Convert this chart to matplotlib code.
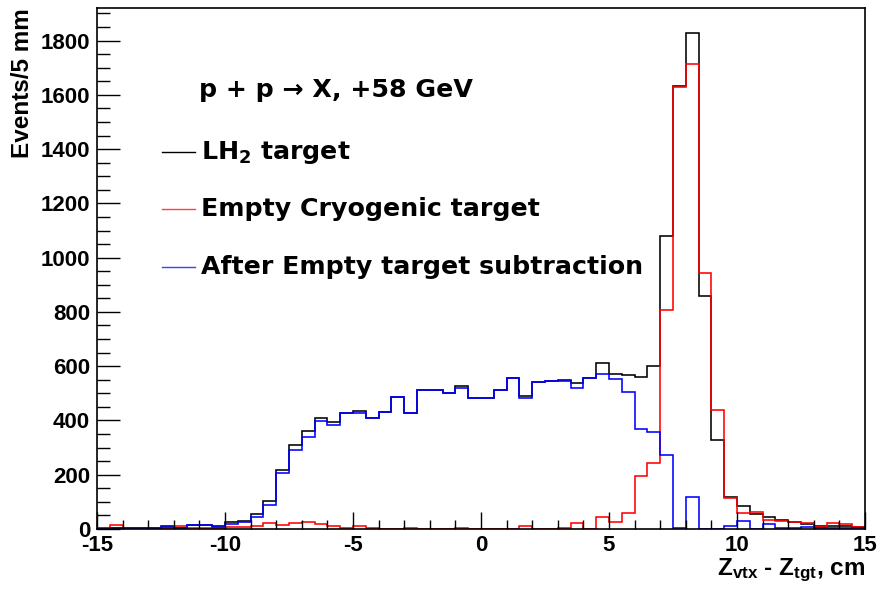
import numpy as np
import matplotlib
matplotlib.use("Agg")
import matplotlib.pyplot as plt
from matplotlib.lines import Line2D
from matplotlib.ticker import MultipleLocator

plt.rcParams['font.family'] = ['Liberation Sans', 'DejaVu Sans']
plt.rcParams['axes.unicode_minus'] = False
plt.rcParams['mathtext.fontset'] = 'custom'
plt.rcParams['mathtext.rm'] = 'Liberation Sans:bold'
plt.rcParams['mathtext.it'] = 'Liberation Sans:bold'
plt.rcParams['mathtext.bf'] = 'Liberation Sans:bold'

# Vertex z distribution, 5 mm bins from -15 to 15 cm
bin_edges = np.linspace(-15, 15, 61)

lh2_target = [
    2, 5, 4, 4, 4, 10, 5, 15, 15, 10,
    27, 30, 55, 105, 217, 308, 362, 410, 394, 426,
    434, 410, 433, 485, 429, 512, 514, 502, 526, 481,
    483, 512, 555, 491, 541, 545, 548, 539, 555, 612,
    573, 567, 561, 601, 1078, 1632, 1829, 860, 328, 119,
    85, 54, 43, 33, 25, 17, 12, 12, 12, 9,
]

empty_target = [
    2, 13, 3, 2, 2, 5, 10, 2, 2, 2,
    8, 8, 12, 22, 14, 22, 27, 20, 12, 2,
    12, 2, 0, 0, 3, 0, 0, 0, 3, 0,
    0, 0, 0, 12, 0, 0, 2, 22, 0, 43,
    26, 60, 195, 245, 806, 1629, 1714, 943, 439, 113,
    60, 62, 33, 31, 27, 21, 9, 23, 17, 9,
]

subtracted = [
    0, 2, 2, 2, 2, 8, 2, 14, 14, 8,
    18, 25, 45, 87, 205, 290, 340, 397, 385, 426,
    428, 410, 433, 485, 429, 512, 514, 502, 519, 481,
    483, 512, 555, 481, 541, 545, 545, 518, 555, 573,
    552, 505, 368, 358, 272, 3, 117, 0, 0, 12,
    31, 0, 17, 3, 3, 8, 2, 3, 3, 2,
]

title_text = "p + p \u2192 X, +58 GeV"
legend_labels = [r"LH$_{\mathbf{2}}$ target", "Empty Cryogenic target",
                 "After Empty target subtraction"]

W, H = 881, 589
fig = plt.figure(figsize=(W / 100, H / 100), dpi=100)
ax = fig.add_axes([97 / W, 1 - 529 / H, 768 / W, 521 / H])

lw = 1.15
ax.stairs(lh2_target, bin_edges, color='black', lw=lw, baseline=None)
ax.stairs(empty_target, bin_edges, color='#ff0000', lw=lw, baseline=None)
ax.stairs(subtracted, bin_edges, color='#0000ff', lw=lw, baseline=None)

ax.set_xlim(-15, 15)
ax.set_ylim(0, 1920)

ax.xaxis.set_major_locator(MultipleLocator(5))
ax.xaxis.set_minor_locator(MultipleLocator(1))
ax.yaxis.set_major_locator(MultipleLocator(200))
ax.yaxis.set_minor_locator(MultipleLocator(50))

ax.tick_params(axis='both', which='both', direction='in', top=False, right=False,
               width=1.0, colors='black')
ax.tick_params(axis='x', which='major', length=12, pad=4)
ax.tick_params(axis='x', which='minor', length=6.5)
ax.tick_params(axis='y', which='major', length=16.5, pad=5)
ax.tick_params(axis='y', which='minor', length=9.5)
for lab in ax.get_xticklabels() + ax.get_yticklabels():
    lab.set_fontweight('bold')
    lab.set_fontsize(16)

for sp in ax.spines.values():
    sp.set_linewidth(1.2)

ax.set_ylabel("Events/5 mm", fontsize=17.5, fontweight='bold', loc='top')
ax.yaxis.set_label_coords((34 - 97) / 768, 1.0)

fig.text(865 / W, 1 - 575 / H, r"Z$_{vtx}$ - Z$_{tgt}$, cm", fontsize=17.5,
         fontweight='bold', ha='right', va='baseline')

# annotation block
annot_font = dict(family='DejaVu Sans', fontsize=18.2, fontweight='bold',
                  math_fontfamily='dejavusans')
fig.text(199 / W, 1 - 90 / H, title_text, ha='left', va='center', **annot_font)
legend_y = [152, 209, 267]
legend_colors = ['black', '#ff4040', '#4040ff']
for y, c, lab in zip(legend_y, legend_colors, legend_labels):
    fig.add_artist(Line2D([162 / W, 195 / W], [1 - y / H, 1 - y / H],
                          color=c, lw=1.0))
    fig.text(201 / W, 1 - y / H, lab, ha='left', va='center', **annot_font)

fig.savefig("out.png", dpi=100)
